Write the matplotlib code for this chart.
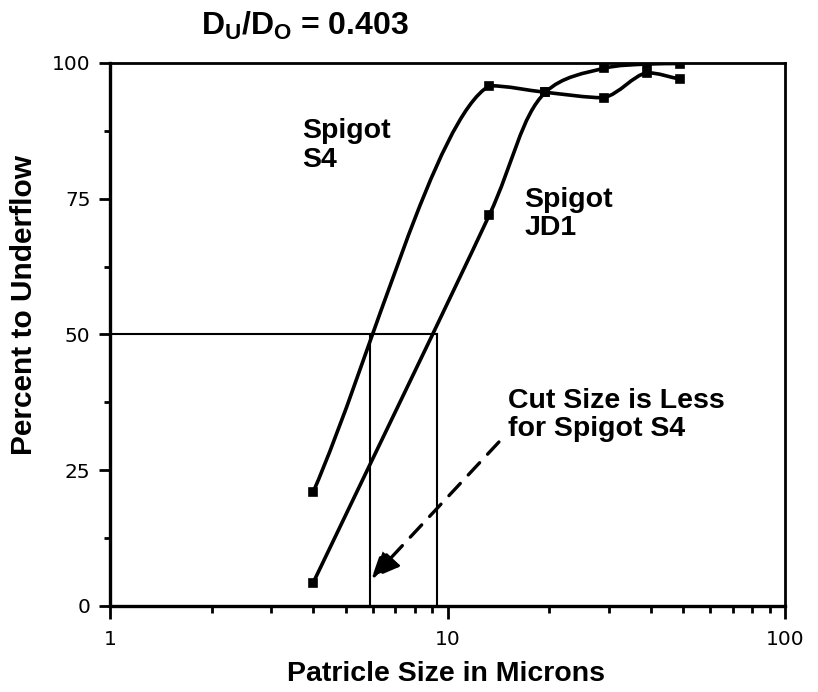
import numpy as np
import matplotlib
matplotlib.use("Agg")
import matplotlib.pyplot as plt
from matplotlib.path import Path
from matplotlib.patches import PathPatch
from matplotlib.ticker import FixedLocator, NullFormatter

plt.rcParams['font.family'] = ['Liberation Sans', 'DejaVu Sans']
plt.rcParams['mathtext.fontset'] = 'custom'
plt.rcParams['mathtext.rm'] = 'Liberation Sans:bold'
plt.rcParams['mathtext.it'] = 'Liberation Sans:bold'
plt.rcParams['mathtext.bf'] = 'Liberation Sans:bold'

# Particle size (microns) and percent reporting to underflow
size_s4 = [4, 13.3, 19.5, 29, 39, 49]
pct_s4 = [21, 95.8, 94.6, 93.6, 98.2, 97.0]
size_jd1 = [4, 13.3, 19.5, 29, 39, 49]
pct_jd1 = [4.3, 72.0, 94.6, 99.0, 99.8, 99.9]

cut_s4 = 5.9
cut_jd1 = 9.3
cut_level = 50

x_ticks = [1, 10, 100]
x_labels = ["1", "10", "100"]
y_ticks = [0, 25, 50, 75, 100]
y_labels = ["0", "25", "50", "75", "100"]


def smooth_path(ax, xs, ys, alpha=0.5):
    """Centripetal Catmull-Rom curve through the points, built in display
    space (control points kept within each segment's vertical range) and
    returned as a Bezier path in data coordinates."""
    P = ax.transData.transform(np.column_stack([xs, ys]))
    n = len(P)
    ext = np.vstack([2 * P[0] - P[1], P, 2 * P[-1] - P[-2]])
    verts = [P[0]]
    codes = [Path.MOVETO]
    for i in range(n - 1):
        p0, p1, p2, p3 = ext[i], ext[i + 1], ext[i + 2], ext[i + 3]
        t01 = np.linalg.norm(p1 - p0) ** alpha
        t12 = np.linalg.norm(p2 - p1) ** alpha
        t23 = np.linalg.norm(p3 - p2) ** alpha
        m1 = (p1 - p0) / t01 - (p2 - p0) / (t01 + t12) + (p2 - p1) / t12
        m2 = (p2 - p1) / t12 - (p3 - p1) / (t12 + t23) + (p3 - p2) / t23
        c1 = p1 + m1 * t12 / 3
        c2 = p2 - m2 * t12 / 3
        lo, hi = min(p1[1], p2[1]), max(p1[1], p2[1])
        c1[1] = np.clip(c1[1], lo, hi)
        c2[1] = np.clip(c2[1], lo, hi)
        verts += [c1, c2, p2]
        codes += [Path.CURVE4] * 3
    data_verts = ax.transData.inverted().transform(np.array(verts))
    return Path(data_verts, codes)


fig = plt.figure(figsize=(8.18, 6.92), dpi=100)
ax = fig.add_axes([0.1345, 0.1243, 0.8252, 0.7847])
ax.set_xscale('log')
ax.set_xlim(1, 100)
ax.set_ylim(0, 100)

for xs, ys in [(size_s4, pct_s4), (size_jd1, pct_jd1)]:
    ax.add_patch(PathPatch(smooth_path(ax, xs, ys), fill=False, lw=2.6,
                           edgecolor='black', capstyle='round', zorder=3))
    ax.plot(xs, ys, ls='none', marker='s', ms=6.3, mfc='black',
            mec='black', mew=1.2, zorder=4)

# cut size construction lines
ax.plot([1, cut_jd1], [cut_level, cut_level], color='black', lw=1.5, zorder=2)
ax.plot([cut_s4, cut_s4], [0, cut_level], color='black', lw=1.5, zorder=2)
ax.plot([cut_jd1, cut_jd1], [0, cut_level], color='black', lw=1.5, zorder=2)

# dashed arrow pointing to the smaller cut size
ax.annotate('', xy=(5.95, 5.0), xytext=(14.2, 30.2),
            arrowprops=dict(arrowstyle='-|>,head_length=1.7,head_width=0.75',
                            lw=2.4, ls=(0, (5, 3.5)), color='black',
                            shrinkA=0, shrinkB=0))

txt = dict(fontsize=20.5, fontweight='bold', ha='left', va='top',
           linespacing=1.12)
ax.text(3.70, 89.8, "Spigot\nS4", **txt)
ax.text(16.9, 77.2, "Spigot\nJD1", **txt)
ax.text(15.1, 40.2, "Cut Size is Less\nfor Spigot S4", **txt)

fig.text(0.373, 0.962, r"$D_U/D_O$ = 0.403", fontsize=23, fontweight='bold',
         ha='center', va='center')

ax.set_xlabel("Patricle Size in Microns", fontsize=20.5, fontweight='bold',
              va='center')
ax.xaxis.set_label_coords(0.497, -0.125)
ax.set_ylabel("Percent to Underflow", fontsize=21.5, fontweight='bold',
              va='center')
ax.yaxis.set_label_coords(-0.128, 0.554)

ax.xaxis.set_major_locator(FixedLocator(x_ticks))
ax.set_xticklabels(x_labels, family='DejaVu Sans', fontsize=14.5)
minor_x = [m * dec for dec in (1, 10) for m in range(2, 10)]
ax.xaxis.set_minor_locator(FixedLocator(minor_x))
ax.xaxis.set_minor_formatter(NullFormatter())
ax.yaxis.set_major_locator(FixedLocator(y_ticks))
ax.set_yticklabels(y_labels, family='DejaVu Sans', fontsize=14.5)
ax.yaxis.set_minor_locator(FixedLocator([12.5, 37.5, 62.5, 87.5]))

ax.tick_params(axis='x', which='major', direction='out', length=9, width=2,
               pad=8)
ax.tick_params(axis='x', which='minor', direction='out', length=5, width=2)
ax.tick_params(axis='y', which='major', direction='out', length=8, width=2,
               pad=6)
ax.tick_params(axis='y', which='minor', direction='out', length=4, width=2)

for side in ['left', 'bottom']:
    ax.spines[side].set_linewidth(2.4)
for side in ['top', 'right']:
    ax.spines[side].set_linewidth(2.0)

fig.savefig('out.png', dpi=100, facecolor='white')
